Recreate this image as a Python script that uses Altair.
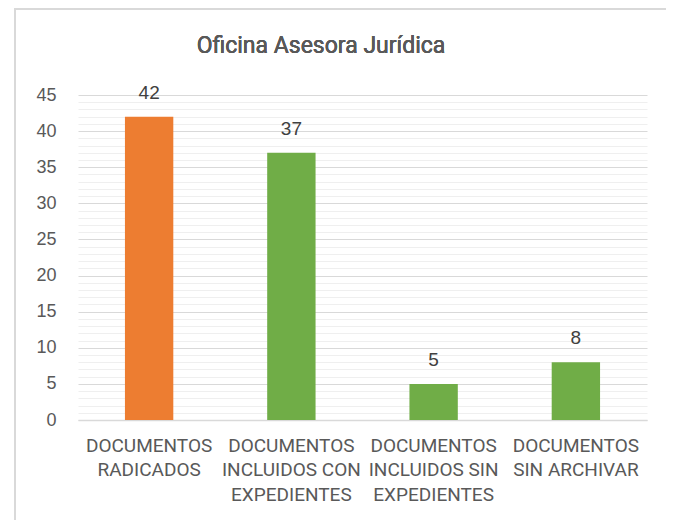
import altair as alt
import pandas as pd

categories = [
    "DOCUMENTOS\nRADICADOS",
    "DOCUMENTOS\nINCLUIDOS CON\nEXPEDIENTES",
    "DOCUMENTOS\nINCLUIDOS SIN\nEXPEDIENTES",
    "DOCUMENTOS\nSIN ARCHIVAR",
]
values = [42, 37, 5, 8]
colors = ["#ED7D31", "#70AD47", "#70AD47", "#70AD47"]
title_text = "Oficina Asesora Jurídica"
y_ticks = list(range(0, 46))

df = pd.DataFrame({"cat": categories, "val": values, "color": colors})

LAB = "Roboto, 'Liberation Sans', sans-serif"
REG = "'Liberation Sans', Arial, sans-serif"

x = alt.X(
    "cat:N",
    sort=categories,
    title=None,
    scale=alt.Scale(paddingInner=0.66, paddingOuter=0.33),
    axis=alt.Axis(
        labelExpr="split(datum.label, '\\n')",
        labelAngle=0,
        labelFont=LAB,
        labelFontSize=19,
        labelColor="#595959",
        labelLineHeight=24.5,
        labelPadding=16,
        labelBaseline="top",
        labelOverlap=False,
        ticks=False,
        domain=True,
        domainColor="#d9d9d9",
        domainWidth=1.5,
        grid=False,
    ),
)
y = alt.Y(
    "val:Q",
    title=None,
    scale=alt.Scale(domain=[0, 45], nice=False),
    axis=alt.Axis(
        values=y_ticks,
        tickCount=60,
        labelExpr="datum.value % 5 === 0 ? datum.label : ''",
        labelOverlap=False,
        labelFont=REG,
        labelFontSize=18,
        labelColor="#595959",
        labelPadding=22,
        ticks=False,
        domain=False,
        grid=True,
        gridColor=alt.condition("datum.value % 5 === 0", alt.value("#d9d9d9"), alt.value("#efefef")),
        gridWidth=1.2,
    ),
)

bars = alt.Chart(df).mark_bar().encode(
    x=x, y=y, color=alt.Color("color:N", scale=None)
)
labels = alt.Chart(df).mark_text(
    dy=-14, baseline="bottom", font=REG, fontSize=19, color="#404040"
).encode(x=alt.X("cat:N", sort=categories), y="val:Q", text="val:Q")

title_mark = alt.Chart(df).mark_text(
    font=LAB, fontSize=23, color="#595959", baseline="middle", align="center"
).encode(x=alt.value(243), y=alt.value(-49), text=alt.value(title_text))

frame_left = alt.Chart(df).mark_rule(color="#d9d9d9", strokeWidth=2).encode(
    x=alt.value(-63), y=alt.value(-87), y2=alt.value(428)
)
frame_bottom = alt.Chart(df).mark_rule(color="#d9d9d9", strokeWidth=2).encode(
    x=alt.value(-63), x2=alt.value(600), y=alt.value(428)
)
frame_top = alt.Chart(df).mark_rule(color="#d9d9d9", strokeWidth=2).encode(
    x=alt.value(-63), x2=alt.value(600), y=alt.value(-86)
)

chart = (
    alt.layer(frame_left, frame_bottom, frame_top, bars, labels, title_mark)
    .properties(
        width=569,
        height=325,
        autosize=alt.AutoSizeParams(type="none"),
        padding={"left": 70, "top": 87, "right": 19, "bottom": 100},
    )
    .configure_view(stroke=None)
)

chart.save("out.html", embed_options={"renderer": "svg", "actions": False})
